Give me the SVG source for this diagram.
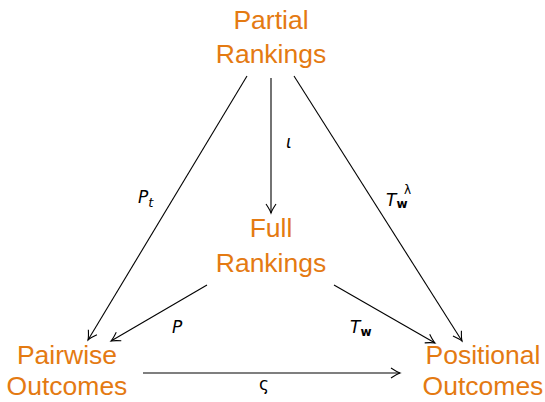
<svg xmlns="http://www.w3.org/2000/svg" width="545" height="402" viewBox="0 0 545 402">
<style>
.n{font-family:"Liberation Sans",Arial,sans-serif;font-size:26.5px;fill:#E47A12;text-anchor:middle}
.l{font-family:"DejaVu Sans","Liberation Sans",sans-serif;font-size:17px;font-style:italic;fill:#000}
.b{font-style:normal;font-weight:bold;font-size:12px}
.e{stroke:#000;stroke-width:1.1;fill:none;marker-end:url(#a)}
</style>
<defs>
<marker id="a" viewBox="-10 -6 12 12" refX="0" refY="0" markerWidth="12" markerHeight="12" markerUnits="userSpaceOnUse" orient="auto">
<path d="M-9,-5 Q-3,-1 0,0 Q-3,1 -9,5" fill="none" stroke="#000" stroke-width="1.1"/>
</marker>
</defs>
<rect width="545" height="402" fill="#fff"/>
<g id="connectors">
<line class="e" x1="271" y1="78" x2="271" y2="213"/>
<line class="e" x1="247" y1="76" x2="88" y2="340"/>
<line class="e" x1="294" y1="76" x2="462" y2="341"/>
<line class="e" x1="207" y1="285" x2="111" y2="341"/>
<line class="e" x1="334" y1="285" x2="435" y2="343"/>
<line class="e" x1="143" y1="373" x2="400" y2="373"/>
<text class="l" x="286" y="148">ι</text>
<text class="l" x="138" y="203">P<tspan style="font-size:13px" dy="4">t</tspan></text>
<text class="l" x="386" y="206">T<tspan class="b" dy="2">w</tspan></text>
<text class="l" x="404" y="194" style="font-size:12px;font-style:normal">λ</text>
<text class="l" x="172" y="333">P</text>
<text class="l" x="350" y="333">T<tspan class="b" dy="3">w</tspan></text>
<text class="l" x="259" y="390" style="font-style:normal">ς</text>
</g>
<g id="partial"><text class="n" x="271" y="29">Partial</text><text class="n" x="271" y="63">Rankings</text></g>
<g id="full"><text class="n" x="271" y="237">Full</text><text class="n" x="271" y="272">Rankings</text></g>
<g id="pairwise"><text class="n" x="67" y="364">Pairwise</text><text class="n" x="67" y="395">Outcomes</text></g>
<g id="positional"><text class="n" x="483" y="364">Positional</text><text class="n" x="483" y="395">Outcomes</text></g>
</svg>
